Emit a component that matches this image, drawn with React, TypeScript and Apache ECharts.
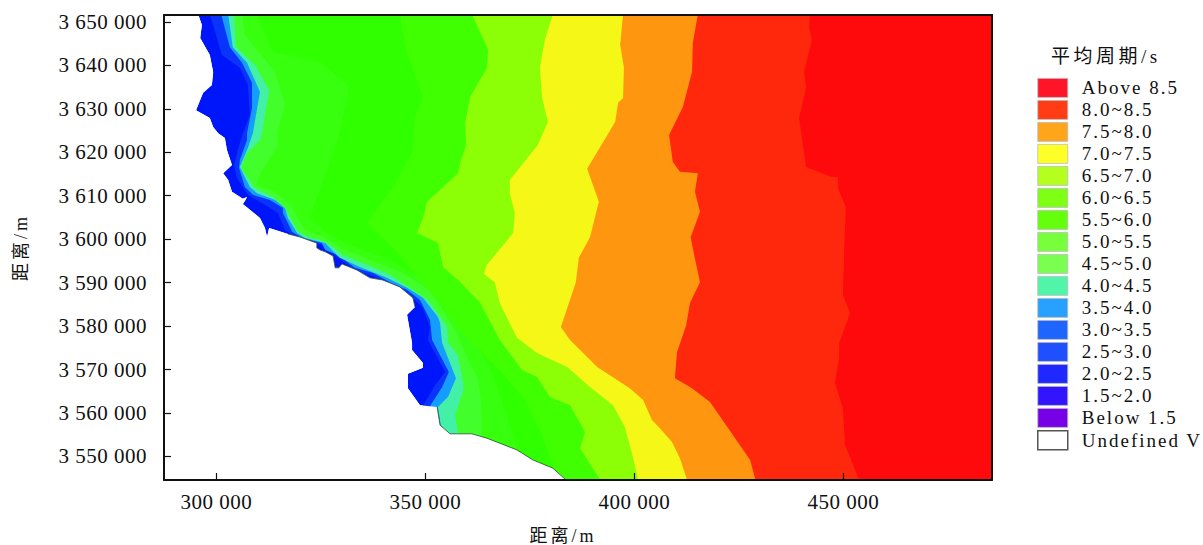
import React, { useEffect, useRef } from "react";
import * as echarts from "echarts";

// All boundaries are [easting km, northing km].
const COAST: number[][] = [[295.6,3651.8],[296.5,3649.3],[296.1,3646.3],[298.4,3642.4],[299.2,3638.5],[298.9,3635.5],[296.8,3633.7],[295.1,3629.7],[298.4,3627.9],[299.2,3625.8],[300.4,3624.4],[302.0,3623.3],[302.5,3620.5],[303.7,3617.1],[301.6,3615.2],[302.8,3613.6],[303.7,3610.9],[306.3,3609.3],[307.3,3609.7],[306.8,3608.8],[306.3,3608.1],[310.4,3604.9],[311.6,3602.6],[312.1,3600.5],[312.6,3602.6],[317.1,3601.2],[320.0,3600.5],[324.0,3599.1],[324.0,3598.0],[324.8,3597.5],[326.0,3597.1],[327.9,3596.1],[328.4,3593.4],[329.3,3593.4],[330.0,3594.3],[333.6,3592.9],[336.7,3591.1],[339.8,3590.6],[343.9,3589.0],[347.0,3586.5],[347.5,3584.4],[345.6,3582.6],[346.8,3576.1],[346.8,3574.5],[349.4,3571.5],[349.4,3570.4],[345.8,3569.0],[345.8,3565.7],[348.7,3561.8],[352.8,3561.4],[353.5,3557.2],[355.9,3555.2],[361.1,3555.2],[364.7,3554.2],[371.9,3551.5],[375.7,3549.2],[380.5,3547.3],[383.6,3544.6],[384.0,3544.0]];
const EDGE_2_5: number[][] = [[298.4,3651.8],[301.3,3642.4],[305.6,3639.4],[307.5,3635.5],[308.0,3628.6],[306.3,3624.4],[305.1,3620.5],[304.2,3617.1],[304.9,3614.1],[307.5,3610.2],[311.6,3607.9],[314.7,3606.0],[316.4,3602.1],[320.0,3599.8],[325.2,3598.7],[329.1,3595.7],[333.1,3592.9],[337.9,3591.3],[343.9,3588.5],[347.5,3586.0],[349.2,3584.4],[351.1,3579.8],[350.6,3576.8],[354.7,3569.4],[352.3,3566.4],[349.4,3561.6],[349.4,3553.8],[349.4,3544]];
const EDGE_3_5: number[][] = [[301.1,3651.8],[303.2,3644.2],[306.1,3640.6],[308.5,3636.0],[308.5,3630.2],[307.3,3624.4],[307.3,3622.8],[305.6,3618.2],[305.4,3616.4],[306.8,3612.0],[308.7,3610.2],[312.8,3609.0],[315.9,3607.2],[315.9,3606.0],[318.1,3601.7],[320.5,3600.3],[325.2,3599.1],[326.0,3597.5],[328.4,3596.6],[330.0,3595.7],[333.1,3593.4],[337.5,3592.2],[341.5,3590.1],[345.6,3588.3],[348.7,3586.0],[351.1,3581.4],[351.6,3576.8],[355.6,3569.4],[354.0,3566.0],[351.1,3561.6],[353.0,3557.2],[353.0,3544]];
const EDGE_4_0: number[][] = [[302.8,3651.8],[303.9,3644.2],[307.3,3640.6],[310.4,3633.9],[308.7,3624.4],[307.5,3621.0],[305.6,3616.6],[308.0,3612.0],[309.7,3610.6],[314.0,3609.0],[316.4,3607.2],[317.1,3604.9],[319.3,3601.4],[321.2,3600.3],[326.0,3599.1],[329.5,3595.7],[334.3,3593.6],[340.8,3591.1],[345.6,3588.8],[349.4,3586.5],[353.0,3582.1],[353.5,3580.7],[354.0,3576.1],[357.3,3568.0],[355.4,3563.7],[353.0,3561.4],[353.7,3557.2],[354.4,3555.6],[354.4,3544]];
const EDGE_4_5: number[][] = [[304.2,3651.8],[304.7,3644.2],[309.2,3640.1],[312.6,3634.3],[310.9,3624.4],[310.4,3622.8],[307.3,3619.8],[305.9,3616.4],[309.2,3611.8],[313.5,3609.7],[316.4,3607.2],[319.5,3601.7],[322.4,3600.3],[324.8,3599.8],[327.9,3598.2],[330.0,3596.4],[336.0,3594.1],[341.5,3591.8],[347.0,3588.3],[350.6,3586.0],[355.2,3579.8],[355.4,3576.3],[357.8,3573.3],[359.2,3565.7],[357.1,3559.5],[357.8,3555.2],[357.8,3544]];
const EDGE_5_0: number[][] = [[306.1,3651.8],[306.8,3647.0],[314.0,3638.5],[316.4,3630.9],[314.5,3624.4],[314.7,3622.8],[314.5,3621.2],[310.4,3615.2],[309.5,3612.5],[314.0,3610.9],[317.6,3607.9],[321.2,3602.1],[326.0,3600.3],[330.8,3597.5],[337.9,3594.8],[343.9,3592.5],[351.1,3588.3],[357.1,3579.1],[360.0,3572.7],[362.6,3567.6],[363.3,3563.0],[363.5,3554.9],[363.5,3544]];
const EDGE_5_5: number[][] = [[309.7,3651.8],[313.5,3643.1],[324.8,3640.8],[331.9,3635.0],[328.8,3622.1],[322.4,3605.1],[326.0,3601.7],[331.9,3598.7],[340.3,3595.7],[347.5,3591.8],[354.7,3586.0],[360.6,3578.0],[365.4,3570.6],[368.3,3563.0],[370.9,3555.4],[372.1,3551.5],[372.1,3544]];
const EDGE_6_0: number[][] = [[343.9,3651.8],[345.1,3644.2],[349.4,3632.5],[347.5,3628.1],[346.8,3619.8],[342.2,3612.0],[336.0,3603.7],[342.7,3597.5],[348.7,3590.6],[354.7,3583.7],[360.6,3576.8],[367.8,3569.9],[373.8,3563.0],[377.4,3556.1],[380.5,3548.0],[380.5,3544]];
const EDGE_6_5: number[][] = [[361.1,3651.8],[365.0,3643.6],[364.7,3639.4],[360.7,3632.7],[359.5,3626.8],[359.7,3621.7],[358.3,3617.5],[357.8,3615.2],[350.4,3608.6],[349.4,3604.9],[348.0,3601.4],[353.0,3599.1],[354.2,3593.6],[357.8,3590.6],[363.0,3585.5],[367.8,3576.8],[373.1,3569.9],[376.7,3568.3],[379.8,3563.7],[384.6,3561.8],[388.2,3555.6],[387.0,3551.9],[391.8,3544.6],[392.0,3544]];
const EDGE_7_0: number[][] = [[380.5,3651.8],[378.6,3645.9],[377.4,3639.6],[377.9,3632.7],[379.3,3627.0],[376.9,3621.7],[370.2,3613.6],[370.2,3610.6],[371.4,3606.0],[371.0,3601.4],[364.7,3594.1],[364.0,3592.0],[366.6,3590.1],[367.8,3585.3],[371.9,3577.3],[376.7,3573.8],[383.9,3570.6],[389.4,3566.0],[394.9,3561.8],[397.7,3556.8],[399.4,3550.8],[400.9,3544.6],[401.0,3544]];
const EDGE_7_5: number[][] = [[397.3,3651.8],[396.6,3644.7],[397.5,3639.6],[397.3,3632.5],[396.1,3631.4],[395.4,3627.0],[388.7,3616.2],[391.5,3608.6],[389.4,3600.5],[386.7,3595.7],[386.0,3590.1],[382.4,3579.8],[384.6,3576.8],[391.1,3570.6],[398.9,3565.7],[402.1,3563.0],[404.2,3558.4],[406.1,3556.5],[409.0,3553.3],[410.9,3549.6],[412.6,3544.6],[413.0,3544]];
const EDGE_8_0: number[][] = [[415.2,3651.8],[414.0,3645.2],[413.8,3638.5],[411.6,3630.4],[408.3,3624.0],[409.2,3617.8],[410.9,3615.5],[415.2,3615.2],[414.5,3610.9],[415.7,3606.3],[413.5,3600.5],[413.8,3598.7],[415.7,3590.1],[413.3,3585.3],[412.4,3580.2],[410.2,3574.0],[409.7,3568.0],[413.8,3565.7],[418.1,3562.5],[422.2,3556.8],[427.7,3549.2],[428.9,3544.8],[429.0,3544]];
const EDGE_8_5: number[][] = [[442.0,3651.8],[441.8,3648.6],[442.5,3645.9],[440.6,3638.5],[441.1,3634.8],[439.4,3627.9],[441.1,3616.6],[447.3,3614.3],[448.7,3614.3],[448.7,3611.8],[450.6,3607.4],[450.2,3597.5],[449.9,3587.2],[451.6,3583.0],[449.0,3576.1],[449.0,3572.7],[448.0,3566.9],[449.9,3561.1],[450.4,3552.6],[453.7,3544.8],[454.0,3544]];

const X_TICKS = [300000, 350000, 400000, 450000];
const Y_TICKS = [3550000, 3560000, 3570000, 3580000, 3590000, 3600000, 3610000, 3620000, 3630000, 3640000, 3650000];
const X_RANGE = [287440, 485580];
const Y_RANGE = [3544570, 3651600];

const LEGEND_NAMES = ["Above 8.5","8.0~8.5","7.5~8.0","7.0~7.5","6.5~7.0","6.0~6.5","5.5~6.0","5.0~5.5","4.5~5.0","4.0~4.5","3.5~4.0","3.0~3.5","2.5~3.0","2.0~2.5","1.5~2.0","Below 1.5","Undefined V"];
const LEGEND_COLORS = ["#ff1428","#ff3c14","#ffa51a","#ffff28","#b4ff1e","#7fff14","#64ff0a","#78ff3c","#7aff50","#50f5aa","#28a0ff","#1e64ff","#1e50ff","#1e28ff","#3214ff","#7800e6","#ffffff"];

// painted in this order, each filling everything east of its edge
const MAP_BANDS: [string, number[][], string][] = [
  ["2.0~2.5", COAST, "#0016fa"],
  ["2.5~3.0", EDGE_2_5, "#0a34fa"],
  ["3.5~4.0", EDGE_3_5, "#149cff"],
  ["4.0~4.5", EDGE_4_0, "#42f0a6"],
  ["4.5~5.0", EDGE_4_5, "#42ff2c"],
  ["5.0~5.5", EDGE_5_0, "#38ff0e"],
  ["5.5~6.0", EDGE_5_5, "#30ff00"],
  ["6.0~6.5", EDGE_6_0, "#40ff00"],
  ["6.5~7.0", EDGE_6_5, "#8cff06"],
  ["7.0~7.5", EDGE_7_0, "#f5f816"],
  ["7.5~8.0", EDGE_7_5, "#ff9610"],
  ["8.0~8.5", EDGE_8_0, "#ff280c"],
  ["Above 8.5", EDGE_8_5, "#ff0a0c"],
];
const EMPTY_NAMES = ["3.0~3.5", "1.5~2.0", "Below 1.5"];

const FONT = '"Liberation Serif", "Noto Sans CJK SC", serif';
const toM = (pts: number[][]) => pts.map((p) => [p[0] * 1000, p[1] * 1000]);
const spaced = (v: number) => String(v).replace(/\B(?=(\d{3})+$)/g, " ");

function polygonSeries(name: string, pts: number[][], color: string, z: number) {
  const data = toM(pts);
  return {
    type: "custom",
    name,
    clip: true,
    z,
    xAxisIndex: 0,
    yAxisIndex: 0,
    encode: { x: 0, y: 1 },
    itemStyle: { color },
    data,
    renderItem: (params: any, api: any) => {
      if (params.dataIndex !== 0) return null;
      return {
        type: "polygon",
        shape: { points: data.map((p) => api.coord(p)) },
        style: { fill: color },
      };
    },
  };
}

function eastOf(edge: number[][]) {
  return [...edge, [X_RANGE[1] / 1000 + 5, edge[edge.length - 1][1]], [X_RANGE[1] / 1000 + 5, edge[0][1]]];
}
function westOf(edge: number[][]) {
  return [...edge, [X_RANGE[0] / 1000 - 5, edge[edge.length - 1][1]], [X_RANGE[0] / 1000 - 5, edge[0][1]]];
}

export default function App() {
  const ref = useRef<HTMLDivElement>(null);
  useEffect(() => {
    const chart = echarts.init(ref.current!, undefined, { renderer: "svg" });
    const frame = { show: true, onZero: false, lineStyle: { color: "#111", width: 2 } };
    const series: any[] = [];
    MAP_BANDS.forEach(([n, e, c], i) => series.push(polygonSeries(n, eastOf(e), c, 2 + i * 0.01)));
    series.push(polygonSeries("Undefined V", westOf(COAST), "#ffffff", 3));
    EMPTY_NAMES.forEach((n, i) => series.push({ type: "custom", name: n, data: [], renderItem: () => null, itemStyle: { color: LEGEND_COLORS[LEGEND_NAMES.indexOf(n)] } }));
    [COAST.slice(25, 41), COAST.slice(49, 58)].forEach((seg, i) =>
      series.push({
        type: "line",
        name: "coast" + i,
        data: toM(seg),
        showSymbol: false,
        symbol: "none",
        z: 4,
        lineStyle: { color: "#2c4a34", width: 0.8 },
      })
    );
    chart.setOption({
      animation: false,
      title: {
        text: "平均周期/s",
        left: 1051,
        top: 47,
        padding: 0,
        textStyle: { fontFamily: FONT, fontSize: 19, fontWeight: "normal", color: "#111" },
      },
      legend: {
        orient: "vertical",
        left: 1037,
        top: 78,
        padding: 0,
        itemWidth: 30,
        itemHeight: 19,
        itemGap: 2.2,
        selectedMode: false,
        icon: "rect",
        textStyle: { fontFamily: FONT, fontSize: 19, lineHeight: 19, color: "#111", padding: [0, 0, 0, 9] },
        data: LEGEND_NAMES.map((name, i) => ({
          name,
          icon: "rect",
          itemStyle: {
            color: LEGEND_COLORS[i],
            borderColor: name === "Undefined V" ? "#555" : "#bbb",
            borderWidth: name === "Undefined V" ? 1.5 : 0.8,
            opacity: 1,
          },
        })),
      },
      grid: { left: 164, right: 211, top: 15, bottom: 65, containLabel: false, outerBoundsMode: "none" },
      xAxis: [
        {
          type: "value",
          min: X_RANGE[0],
          max: X_RANGE[1],
          position: "bottom",
          splitLine: { show: false },
          axisLine: frame,
          z: 6,
          axisTick: { show: true, inside: true, length: 7, customValues: X_TICKS, lineStyle: { color: "#111", width: 1.2 } },
          axisLabel: { customValues: X_TICKS, formatter: (v: number) => spaced(v), margin: 11, fontFamily: FONT, fontSize: 21, color: "#111", showMinLabel: true, showMaxLabel: true },
          name: "距离/m",
          nameLocation: "middle",
          nameGap: 47,
          nameTextStyle: { fontFamily: FONT, fontSize: 18, color: "#111", padding: [0, 30, 0, 0] },
        },
        { type: "value", min: X_RANGE[0], max: X_RANGE[1], position: "top", splitLine: { show: false }, axisLine: frame, axisTick: { show: false }, axisLabel: { show: false }, z: 6 },
      ],
      yAxis: [
        {
          type: "value",
          min: Y_RANGE[0],
          max: Y_RANGE[1],
          position: "left",
          splitLine: { show: false },
          axisLine: frame,
          z: 6,
          axisTick: { show: true, inside: true, length: 7, customValues: Y_TICKS, lineStyle: { color: "#111", width: 1.2 } },
          axisLabel: { customValues: Y_TICKS, formatter: (v: number) => spaced(v), margin: 17, fontFamily: FONT, fontSize: 21, color: "#111" },
          name: "距离/m",
          nameLocation: "middle",
          nameGap: 134,
          nameRotate: 90,
          nameTextStyle: { fontFamily: FONT, fontSize: 18, color: "#111" },
        },
        { type: "value", min: Y_RANGE[0], max: Y_RANGE[1], position: "right", splitLine: { show: false }, axisLine: frame, axisTick: { show: false }, axisLabel: { show: false }, z: 6 },
      ],
      series,
    });
    ref.current!.querySelectorAll("text").forEach((t) => {
      const s = t.textContent || "";
      let ls = 0.5;
      if (LEGEND_NAMES.includes(s)) ls = 2;
      else if (s === "平均周期/s") ls = 3.5;
      else if (s === "距离/m") ls = 3;
      (t as SVGTextElement).style.letterSpacing = ls + "px";
    });
    return () => chart.dispose();
  }, []);
  return <div ref={ref} style={{ position: "fixed", left: 0, top: 0, width: 1203, height: 545, background: "#fff" }} />;
}
